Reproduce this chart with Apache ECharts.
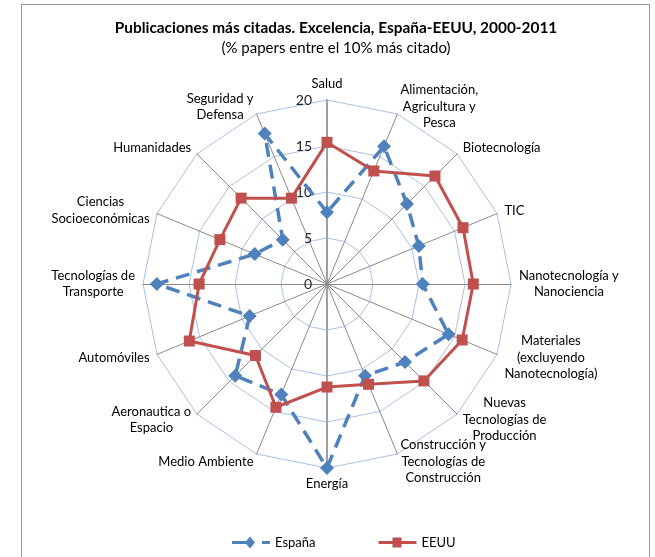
<!DOCTYPE html>
<html>
<head>
<meta charset="utf-8">
<script src="https://cdn.jsdelivr.net/npm/echarts@6/dist/echarts.min.js"></script>
<style>
html,body{margin:0;padding:0;background:#fff;}
#frame{position:absolute;left:21px;top:4px;width:629px;height:600px;border:1px solid #9a9a9a;box-sizing:border-box;}
#chart{position:absolute;left:0;top:0;width:655px;height:557px;}
</style>
</head>
<body>
<div id="frame"></div>
<div id="chart"></div>
<script>
// Categories in clockwise order starting at the top
const categories = ['Salud', 'Alimentación,\nAgricultura y\nPesca', 'Biotecnología', 'TIC', 'Nanotecnología y\nNanociencia', 'Materiales\n(excluyendo\nNanotecnología)', 'Nuevas\nTecnologías de\nProducción', 'Construcción y\nTecnologías de\nConstrucción', 'Energía', 'Medio Ambiente', 'Aeronautica o\nEspacio', 'Automóviles', 'Tecnologías de\nTransporte', 'Ciencias\nSocioeconómicas', 'Humanidades', 'Seguridad y\nDefensa'];
const espana = [7.8, 16.2, 12.3, 10.8, 10.4, 14.3, 12.0, 10.8, 20.0, 13.0, 14.1, 9.1, 18.5, 8.5, 6.8, 17.7];
const eeuu = [15.4, 13.3, 16.6, 16.0, 15.9, 15.9, 14.9, 11.8, 11.2, 14.5, 11.0, 16.2, 13.9, 12.6, 13.2, 10.1];
const tickLabels = ['0', '5', '10', '15', '20'];
const maxValue = 20;

// ECharts radar runs counter-clockwise; reorder to draw clockwise
const order = [0];
for (let i = categories.length - 1; i >= 1; i--) order.push(i);

const FONT = 'Lato, "Open Sans", sans-serif';
const indicators = order.map(function (i) {
  const ind = { name: categories[i], max: maxValue, min: 0 };
  if (i === 0) {
    ind.axisLabel = {
      show: true, fontSize: 14, color: '#262626', fontFamily: FONT, margin: 15,
      formatter: function (v) { return tickLabels.indexOf(String(v)) >= 0 ? String(v) : ''; }
    };
  }
  if (i === 0 || i === 8) {
    ind.axisLine = { lineStyle: { color: '#a0a0a0', width: 2 } };
  }
  return ind;
});

// legend icons: line + marker
const iconEspana = 'path://M0 4.5L16 4.5L16 7.5L0 7.5Z M18 0L23 6L18 12L13 6Z M30 4.5L38 4.5L38 7.5L30 7.5Z';
const iconEEUU = 'path://M0 3.5L38 3.5L38 6.5L0 6.5Z M14 0L23 0L23 10L14 10Z';

const chart = echarts.init(document.getElementById('chart'), null, { renderer: 'canvas' });
chart.setOption({
  backgroundColor: 'transparent',
  animation: false,
  title: {
    text: 'Publicaciones más citadas. Excelencia, España-EEUU, 2000-2011',
    subtext: '(% papers entre el 10% más citado)',
    left: 331, top: 16, textAlign: 'center', itemGap: 5,
    textStyle: { fontFamily: FONT, fontSize: 15.4, fontWeight: 'bold', color: '#000' },
    subtextStyle: { fontFamily: FONT, fontSize: 15, color: '#000' }
  },
  legend: {
    data: [
      { name: 'España', icon: iconEspana },
      { name: 'EEUU', icon: iconEEUU }
    ],
    left: 227, top: 531,
    itemWidth: 38, itemHeight: 12, itemGap: 63,
    itemStyle: { borderWidth: 0 },
    textStyle: { fontFamily: FONT, fontSize: 13, color: '#000' }
  },
  radar: {
    center: [327, 284],
    radius: 184,
    startAngle: 90,
    splitNumber: 4,
    shape: 'polygon',
    axisName: {
      color: '#000', fontFamily: FONT, fontSize: 13, lineHeight: 16.5,
      formatter: function (name) {
        return name.split('\n').map(function (l) { return '{c|' + l + '}'; }).join('\n');
      },
      rich: { c: { align: 'center', fontFamily: FONT, fontSize: 13, lineHeight: 16.5, color: '#000' } }
    },
    nameGap: 8,
    axisLine: { lineStyle: { color: '#8a8a8a', width: 1 } },
    splitLine: { lineStyle: { color: '#a9c0e8', width: 1 } },
    splitArea: { show: false },
    axisTick: { show: false },
    indicator: indicators
  },
  series: [{
    type: 'radar',
    data: [
      {
        name: 'España', value: order.map(function (i) { return espana[i]; }),
        symbol: 'diamond', symbolSize: 14,
        itemStyle: { color: '#4f81bd' },
        lineStyle: { color: '#4f81bd', width: 3.5, type: [14, 8] }
      },
      {
        name: 'EEUU', value: order.map(function (i) { return eeuu[i]; }),
        symbol: 'rect', symbolSize: 11,
        itemStyle: { color: '#c0504d' },
        lineStyle: { color: '#c0504d', width: 3, type: 'solid' }
      }
    ]
  }]
});
</script>
</body>
</html>
